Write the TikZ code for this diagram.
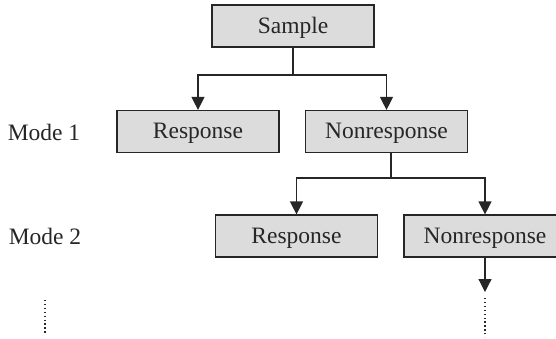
\documentclass[tikz,border=0pt]{standalone}
\usepackage{fontspec}
\setmainfont{Liberation Serif}
\usetikzlibrary{arrows.meta}
\definecolor{boxfill}{HTML}{DCDCDC}
\definecolor{ink}{HTML}{262626}
\begin{document}
\begin{tikzpicture}[x=1pt,y=-1pt,
  every node/.style={font=\fontsize{23.5}{27}\selectfont, text=ink},
  stage/.style={draw=ink, fill=boxfill, line width=1.2pt, minimum width=162pt, minimum height=42pt, inner sep=0pt, text height=17pt, text depth=3pt},
  link/.style={draw=ink, line width=1.2pt},
  arr/.style={link, -{Triangle[length=13pt,width=13pt]}},
  trail/.style={draw=ink, line width=1.3pt, dash pattern=on 1.3pt off 2.6pt}]
  \useasboundingbox (0,0) rectangle (556,338);
  \clip (0,0) rectangle (556,338);

  % boxes
  \node[stage] (sample) at (293,26) {Sample};
  \node[stage] (r1) at (198,131.5) {Response};
  \node[stage] (n1) at (386.5,131.5) {Nonresponse};
  \node[stage] (r2) at (296.5,236) {Response};
  \node[stage] (n2) at (485,236) {Nonresponse};

  % row labels
  \node (m1) at (44,132) {Mode 1};
  \node (m2) at (45,236.5) {Mode 2};

  % first split
  \coordinate (j1) at (293,75);
  \draw[link] (sample.south) -- (j1);
  \draw[arr] (j1) -| (r1.north);
  \draw[arr] (j1) -| (n1.north);

  % second split
  \coordinate (j2) at (391,178);
  \draw[link] (n1.south -| j2) -- (j2);
  \draw[arr] (j2) -| (r2.north);
  \draw[arr] (j2) -| (n2.north);

  % continuation
  \coordinate (t1) at (485,292);
  \coordinate (d1a) at (485,298);
  \coordinate (d1b) at (485,337);
  \coordinate (d2a) at (45,300);
  \coordinate (d2b) at (45,335);
  \draw[arr] (n2.south) -- (t1);
  \draw[trail] (d1a) -- (d1b);
  \draw[trail] (d2a) -- (d2b);
\end{tikzpicture}
\end{document}
